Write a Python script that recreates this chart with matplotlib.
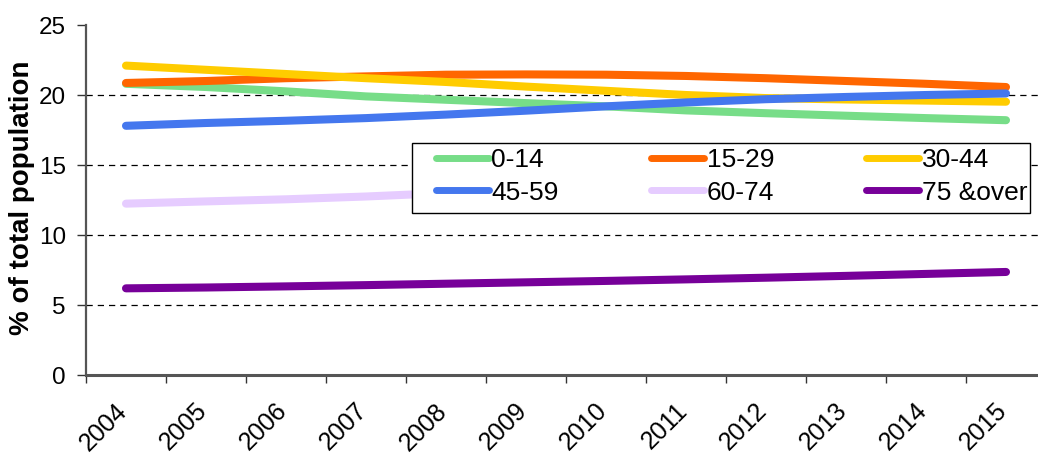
import matplotlib
matplotlib.use('Agg')
import matplotlib.pyplot as plt
from matplotlib.patches import Rectangle
import matplotlib.transforms as mtransforms

plt.rcParams['font.family'] = ['Liberation Sans', 'DejaVu Sans']

years = ['2004', '2005', '2006', '2007', '2008', '2009',
         '2010', '2011', '2012', '2013', '2014', '2015']

# share of total population by age group (%)
age_0_14 = [20.8, 20.57, 20.26, 19.9, 19.66, 19.42, 19.19, 18.9, 18.7, 18.52, 18.35, 18.2]
age_15_29 = [20.86, 21.0, 21.2, 21.33, 21.45, 21.47, 21.45, 21.36, 21.2, 21.0, 20.8, 20.57]
age_30_44 = [22.1, 21.8, 21.5, 21.2, 20.93, 20.6, 20.3, 20.0, 19.78, 19.68, 19.6, 19.52]
age_45_59 = [17.8, 18.0, 18.16, 18.35, 18.6, 18.88, 19.19, 19.47, 19.7, 19.86, 20.0, 20.11]
age_60_74 = [12.24, 12.4, 12.55, 12.75, 13.0, 13.25, 13.5, 13.75, 14.0, 14.25, 14.5, 14.75]
age_75_over = [6.19, 6.25, 6.33, 6.42, 6.52, 6.62, 6.72, 6.83, 6.95, 7.08, 7.22, 7.36]

labels = ['0-14', '15-29', '30-44', '45-59', '60-74', '75 &over']
colors = ['#77dd88', '#ff6600', '#ffcc00', '#4477ee', '#e6ccff', '#770099']
series = [age_0_14, age_15_29, age_30_44, age_45_59, age_60_74, age_75_over]

fig = plt.figure(figsize=(10.38, 4.58), dpi=100)
ax = fig.add_axes([86 / 1038, 83 / 458, 960 / 1038, 350 / 458])

x = list(range(len(years)))
handles = []
for vals, lab, col in zip(series, labels, colors):
    h, = ax.plot(x, vals, color=col, lw=5.8, solid_capstyle='round',
                 solid_joinstyle='round', label=lab, zorder=3)
    handles.append(h)

for g in [5, 10, 15, 20]:
    ax.axhline(g, color='black', lw=0.9, ls=(0, (5, 4)), zorder=1)

ax.set_xlim(-0.5, 11.5)
ax.set_ylim(0, 25)
ax.set_yticks([0, 5, 10, 15, 20, 25])
ax.tick_params(axis='y', direction='out', length=6.5, width=1, pad=8,
               labelsize=17.5, color='#333333')

# year labels at category centres, tick marks at category boundaries
ax.set_xticks(x)
ax.set_xticklabels(years, rotation=45, ha='right', va='top', fontsize=18)
ax.tick_params(axis='x', which='major', length=0, pad=17)
ax.set_xticks([i - 0.5 for i in range(len(years) + 1)], minor=True)
ax.tick_params(axis='x', which='minor', direction='out', length=6, width=1,
               color='#333333')
offset = mtransforms.ScaledTranslation(6 / 100, 0, fig.dpi_scale_trans)
for lbl in ax.get_xticklabels():
    lbl.set_transform(lbl.get_transform() + offset)

for side in ['top', 'right']:
    ax.spines[side].set_visible(False)
ax.spines['left'].set_color('#555555')
ax.spines['left'].set_linewidth(1.6)
ax.spines['bottom'].set_color('#555555')
ax.spines['bottom'].set_linewidth(2.2)

fig.text(22 / 1038, 1 - 198 / 458, '% of total population', rotation=90,
         ha='center', va='center', fontsize=20, fontweight='bold')

# legend box drawn separately so it can sit over the lines
box = Rectangle((412 / 1038, 1 - 213 / 458), 618 / 1038, 70 / 458,
                transform=fig.transFigure, facecolor='white',
                edgecolor='black', lw=1.0, zorder=4, clip_on=False)
ax.add_patch(box)

# legend filled row by row
order = [0, 3, 1, 4, 2, 5]
leg = ax.legend([handles[i] for i in order], [labels[i] for i in order],
                ncol=3, loc='upper left',
                bbox_to_anchor=(436 / 1038, 1 - 148 / 458),
                bbox_transform=fig.transFigure, borderaxespad=0,
                fontsize=19, handlelength=2.0, handletextpad=0.1,
                columnspacing=3.5, labelspacing=0.33, borderpad=0,
                frameon=False)
leg.set_zorder(5)
for ln in leg.get_lines():
    ln.set_linewidth(5)

fig.savefig('out.png', dpi=100)
